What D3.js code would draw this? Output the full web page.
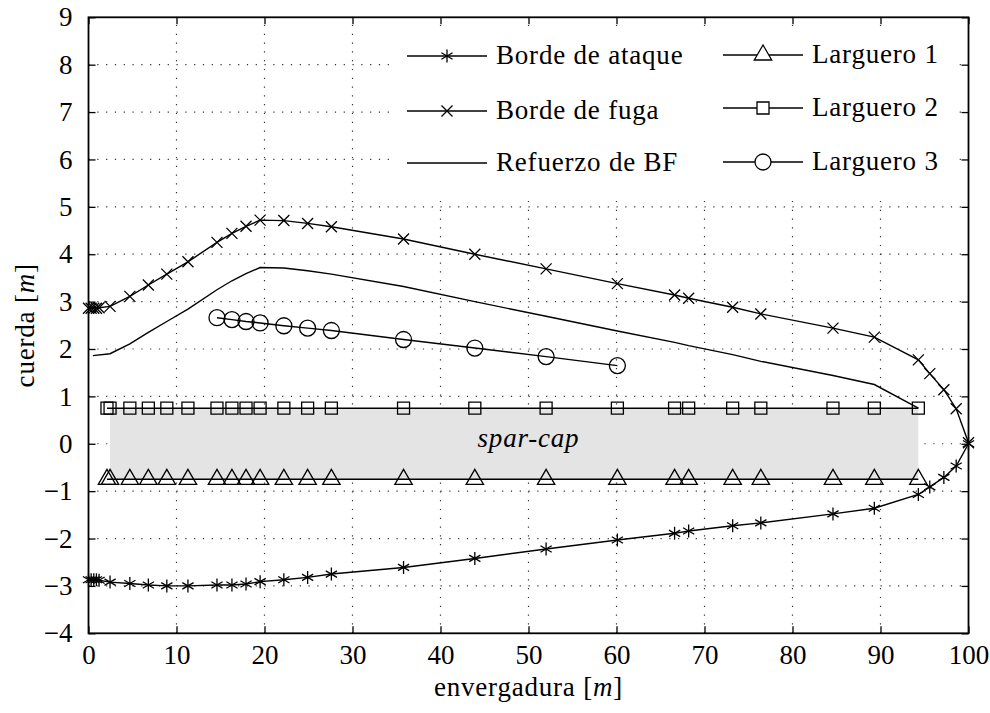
<!DOCTYPE html>
<html>
<head>
	<meta charset="utf-8" />
</head>
<body style="margin:0">
	<svg id="chart" width="990" height="713"></svg>

	<script src="https://cdnjs.cloudflare.com/ajax/libs/d3/7.8.5/d3.min.js"></script>
	<script>
		// stations along the span [m]
		const stations = [0, 0.3, 0.6, 0.9, 1.2, 2.45, 4.7, 6.8, 8.9, 11.3, 14.6, 16.3, 17.9, 19.5, 22.2, 24.9, 27.6, 35.8, 43.9, 52.0, 60.1, 66.6, 68.2, 73.2, 76.4, 84.6, 89.3, 94.3, 95.6, 97.2, 98.6, 100];
		const bordeAtaque = [-2.87, -2.87, -2.87, -2.87, -2.88, -2.92, -2.95, -2.98, -3.0, -3.0, -2.98, -2.98, -2.96, -2.91, -2.87, -2.82, -2.75, -2.61, -2.42, -2.22, -2.03, -1.89, -1.84, -1.73, -1.67, -1.48, -1.36, -1.07, -0.91, -0.71, -0.47, 0.0];
		const bordeFuga = [2.86, 2.86, 2.86, 2.86, 2.87, 2.90, 3.11, 3.35, 3.58, 3.84, 4.25, 4.44, 4.59, 4.72, 4.71, 4.65, 4.58, 4.32, 4.00, 3.69, 3.38, 3.14, 3.07, 2.88, 2.74, 2.44, 2.25, 1.77, 1.48, 1.14, 0.74, 0.02];

		const refuerzoX = [0.5, 2.45, 4.7, 6.8, 8.9, 11.3, 14.6, 16.3, 17.9, 19.5, 22.2, 24.9, 27.6, 35.8, 43.9, 52.0, 60.1, 66.6, 68.2, 73.2, 76.4, 84.6, 89.3, 94.3];
		const refuerzoY = [1.86, 1.90, 2.11, 2.35, 2.58, 2.84, 3.25, 3.44, 3.59, 3.72, 3.71, 3.65, 3.58, 3.32, 3.00, 2.69, 2.38, 2.14, 2.07, 1.88, 1.74, 1.44, 1.25, 0.75];

		const largueroX = [2.1, 2.45, 4.7, 6.8, 8.9, 11.3, 14.6, 16.3, 17.9, 19.5, 22.2, 24.9, 27.6, 35.8, 43.9, 52.0, 60.1, 66.6, 68.2, 73.2, 76.4, 84.6, 89.3, 94.3];
		const larguero1Y = [-0.75, -0.75, -0.75, -0.75, -0.75, -0.75, -0.75, -0.75, -0.75, -0.75, -0.75, -0.75, -0.75, -0.75, -0.75, -0.75, -0.75, -0.75, -0.75, -0.75, -0.75, -0.75, -0.75, -0.75];
		const larguero2Y = [0.75, 0.75, 0.75, 0.75, 0.75, 0.75, 0.75, 0.75, 0.75, 0.75, 0.75, 0.75, 0.75, 0.75, 0.75, 0.75, 0.75, 0.75, 0.75, 0.75, 0.75, 0.75, 0.75, 0.75];

		const larguero3X = [14.6, 16.3, 17.9, 19.5, 22.2, 24.9, 27.6, 35.8, 43.9, 52.0, 60.1];
		const larguero3Y = [2.66, 2.62, 2.58, 2.55, 2.49, 2.44, 2.39, 2.20, 2.02, 1.84, 1.65];

		// spar-cap band: [x0, x1], [y0, y1]
		const sparCapX = [2.45, 94.3];
		const sparCapY = [-0.75, 0.75];

		const xTicks = [0, 10, 20, 30, 40, 50, 60, 70, 80, 90, 100];
		const yTicks = [-4, -3, -2, -1, 0, 1, 2, 3, 4, 5, 6, 7, 8, 9];

		const series = [
			{ name: 'Borde de ataque', x: stations, y: bordeAtaque, mark: 'asterisk' },
			{ name: 'Borde de fuga', x: stations, y: bordeFuga, mark: 'cross' },
			{ name: 'Refuerzo de BF', x: refuerzoX, y: refuerzoY, mark: null },
			{ name: 'Larguero 1', x: largueroX, y: larguero1Y, mark: 'triangle' },
			{ name: 'Larguero 2', x: largueroX, y: larguero2Y, mark: 'square' },
			{ name: 'Larguero 3', x: larguero3X, y: larguero3Y, mark: 'circle' },
		];

		const FONT = 'Liberation Serif',
			FS = 27;

		const plot = { left: 88.5, right: 968.5, top: 17.3, bottom: 633.3 };

		const x = d3.scaleLinear().domain([0, 100]).range([plot.left, plot.right]);
		const y = d3.scaleLinear().domain([-4, 9]).range([plot.bottom, plot.top]);

		const svg = d3.select('#chart');

		// words get a little tracking so widths come closer to the TeX font
		function addText(parent, tx, ty) {
			return parent
				.append('text')
				.attr('x', tx)
				.attr('y', ty)
				.attr('font-family', FONT)
				.attr('font-size', FS)
				.attr('letter-spacing', 0.8)
				.attr('fill', '#000');
		}

		// grid
		const grid = svg
			.append('g')
			.attr('stroke', '#333')
			.attr('stroke-width', 1.2)
			.attr('stroke-dasharray', '1.2,7.6');
		grid.selectAll('.gx')
			.data(xTicks.slice(1, -1))
			.join('line')
			.attr('x1', d => x(d))
			.attr('x2', d => x(d))
			.attr('y1', plot.bottom)
			.attr('y2', plot.top);
		grid.selectAll('.gy')
			.data(yTicks.slice(1, -1))
			.join('line')
			.attr('x1', plot.left)
			.attr('x2', plot.right)
			.attr('y1', d => y(d))
			.attr('y2', d => y(d));

		// spar-cap band
		svg.append('rect')
			.attr('x', x(sparCapX[0]))
			.attr('y', y(sparCapY[1]))
			.attr('width', x(sparCapX[1]) - x(sparCapX[0]))
			.attr('height', y(sparCapY[0]) - y(sparCapY[1]))
			.attr('fill', '#e4e4e4');

		addText(svg, x(50), y(0) + 3)
			.attr('text-anchor', 'middle')
			.attr('font-style', 'italic')
			.text('spar-cap');

		function markPath(type, cx, cy) {
			switch (type) {
				case 'asterisk':
					return `M${cx},${cy - 6.5}V${cy + 6.5}M${cx - 5.6},${cy - 3.25}L${cx + 5.6},${cy + 3.25}M${cx - 5.6},${cy + 3.25}L${cx + 5.6},${cy - 3.25}`;
				case 'cross':
					return `M${cx - 5.5},${cy - 5.5}L${cx + 5.5},${cy + 5.5}M${cx - 5.5},${cy + 5.5}L${cx + 5.5},${cy - 5.5}`;
				case 'triangle':
					return `M${cx},${cy - 10}L${cx + 8.7},${cy + 5}L${cx - 8.7},${cy + 5}Z`;
				case 'square':
					return `M${cx - 6},${cy - 6}h12v12h-12Z`;
				case 'circle':
					return `M${cx - 8},${cy}a8,8 0 1,0 16,0a8,8 0 1,0 -16,0Z`;
			}
			return '';
		}

		const line = d3
			.line()
			.x(d => x(d[0]))
			.y(d => y(d[1]));

		series.forEach(s => {
			const pts = s.x.map((v, i) => [v, s.y[i]]);
			const g = svg.append('g');
			g.append('path')
				.attr('d', line(pts))
				.attr('fill', 'none')
				.attr('stroke', '#000')
				.attr('stroke-width', 1.4);
			if (s.mark) {
				g.selectAll('path.mark')
					.data(pts)
					.join('path')
					.attr('class', 'mark')
					.attr('d', d => markPath(s.mark, x(d[0]), y(d[1])))
					.attr('fill', 'none')
					.attr('stroke', '#000')
					.attr('stroke-width', 1.3);
			}
		});

		// legend (white box, no border)
		const legend = svg.append('g');
		legend.append('rect')
			.attr('x', 393)
			.attr('y', 26)
			.attr('width', 566)
			.attr('height', 170)
			.attr('fill', '#fff');
		const legendCols = [
			{ x0: 407, x1: 487, tx: 496, rows: [56, 111, 163] },
			{ x0: 723, x1: 803, tx: 812, rows: [55, 108, 162] },
		];
		series.forEach((s, i) => {
			const c = legendCols[Math.floor(i / 3)];
			const ry = c.rows[i % 3];
			legend.append('line')
				.attr('x1', c.x0)
				.attr('x2', c.x1)
				.attr('y1', ry)
				.attr('y2', ry)
				.attr('stroke', '#000')
				.attr('stroke-width', 1.4);
			if (s.mark) {
				legend.append('path')
					.attr('d', markPath(s.mark, (c.x0 + c.x1) / 2, ry))
					.attr('fill', s.mark === 'asterisk' || s.mark === 'cross' ? 'none' : '#fff')
					.attr('stroke', '#000')
					.attr('stroke-width', 1.3);
			}
			addText(legend, c.tx, ry + 7.5).text(s.name);
		});

		// axes with inward ticks on all four sides
		const fmt = d => (d < 0 ? '\u2212' + Math.abs(d) : String(d));

		svg.append('g')
			.attr('transform', `translate(0,${plot.bottom})`)
			.call(d3.axisBottom(x).tickValues(xTicks).tickSizeInner(-7).tickSizeOuter(0).tickPadding(12).tickFormat(fmt));
		svg.append('g')
			.attr('transform', `translate(${plot.left},0)`)
			.call(d3.axisLeft(y).tickValues(yTicks).tickSizeInner(-7).tickSizeOuter(0).tickPadding(16).tickFormat(fmt));
		svg.append('g')
			.attr('transform', `translate(0,${plot.top})`)
			.call(d3.axisTop(x).tickValues(xTicks).tickSizeInner(-7).tickSizeOuter(0).tickFormat(''));
		svg.append('g')
			.attr('transform', `translate(${plot.right},0)`)
			.call(d3.axisRight(y).tickValues(yTicks).tickSizeInner(-7).tickSizeOuter(0).tickFormat(''));

		svg.selectAll('.domain').remove();
		svg.selectAll('.tick line').attr('stroke', '#000').attr('stroke-width', 1.3);
		svg.selectAll('.tick text')
			.attr('font-family', FONT)
			.attr('font-size', FS)
			.attr('fill', '#000');

		// frame
		svg.append('rect')
			.attr('x', plot.left)
			.attr('y', plot.top)
			.attr('width', plot.right - plot.left)
			.attr('height', plot.bottom - plot.top)
			.attr('fill', 'none')
			.attr('stroke', '#000')
			.attr('stroke-width', 1.8);

		// axis labels
		const xl = addText(svg, x(50), 696).attr('text-anchor', 'middle');
		xl.append('tspan').text('envergadura [');
		xl.append('tspan').attr('font-style', 'italic').text('m');
		xl.append('tspan').text(']');

		const yl = addText(svg, 0, 0)
			.attr('transform', `translate(34,${(plot.top + plot.bottom) / 2}) rotate(-90)`)
			.attr('text-anchor', 'middle');
		yl.append('tspan').text('cuerda [');
		yl.append('tspan').attr('font-style', 'italic').text('m');
		yl.append('tspan').text(']');
	</script>
</body>
</html>
